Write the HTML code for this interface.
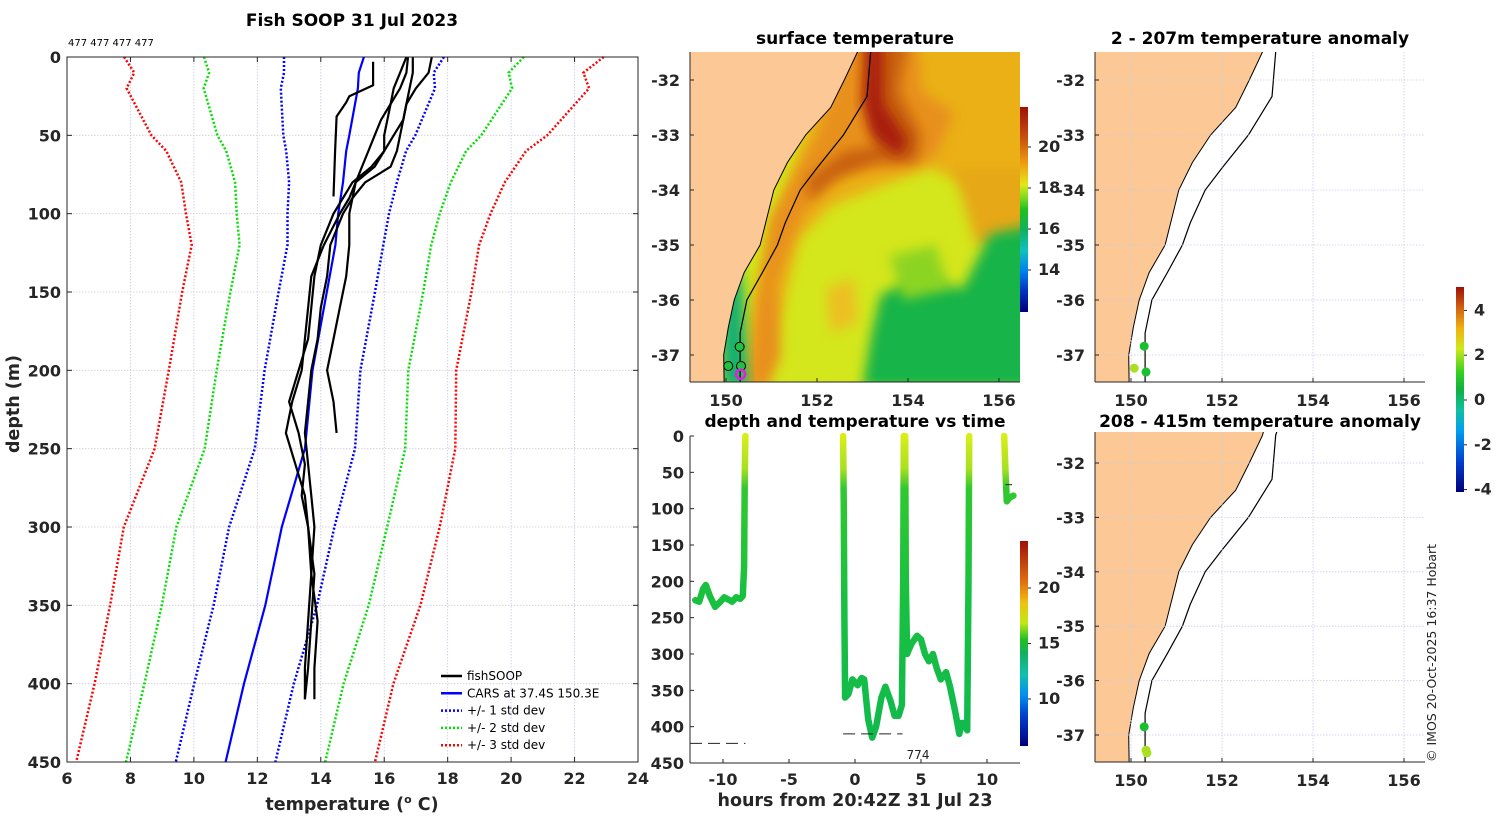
<!DOCTYPE html>
<html><head><meta charset="utf-8">
<style>
html,body{margin:0;padding:0;background:#fff;}
svg{display:block;font-family:"DejaVu Sans","Liberation Sans",sans-serif;}
.tk{font-size:16px;font-weight:bold;fill:#262626;}
.tt{font-size:17px;font-weight:bold;fill:#000;}
.at{font-size:17.5px;font-weight:bold;fill:#262626;}
</style></head>
<body>
<svg id="fig" width="1500" height="820" viewBox="0 0 1500 820" xmlns="http://www.w3.org/2000/svg">
<defs>
<linearGradient id="sstcb" x1="0" y1="1" x2="0" y2="0">
<stop offset="0" stop-color="#00007a"/><stop offset="0.1" stop-color="#0030c0"/><stop offset="0.2" stop-color="#0080f0"/><stop offset="0.3" stop-color="#10c0c0"/><stop offset="0.4" stop-color="#10b060"/><stop offset="0.5" stop-color="#20c020"/><stop offset="0.55" stop-color="#70d820"/><stop offset="0.62" stop-color="#e0e818"/><stop offset="0.72" stop-color="#f0a010"/><stop offset="0.85" stop-color="#c85010"/><stop offset="1" stop-color="#a01008"/>
</linearGradient>
<linearGradient id="tcb" x1="0" y1="1" x2="0" y2="0">
<stop offset="0" stop-color="#00007a"/><stop offset="0.15" stop-color="#0040d0"/><stop offset="0.25" stop-color="#0090f0"/><stop offset="0.35" stop-color="#10c0b0"/><stop offset="0.45" stop-color="#10b060"/><stop offset="0.52" stop-color="#20c020"/><stop offset="0.6" stop-color="#c0e818"/><stop offset="0.7" stop-color="#f0c010"/><stop offset="0.8" stop-color="#e07010"/><stop offset="1" stop-color="#a01008"/>
</linearGradient>
<linearGradient id="acb" x1="0" y1="1" x2="0" y2="0">
<stop offset="0" stop-color="#00007a"/><stop offset="0.15" stop-color="#0040d0"/><stop offset="0.3" stop-color="#00a0f0"/><stop offset="0.4" stop-color="#10c0a0"/><stop offset="0.5" stop-color="#10b040"/><stop offset="0.58" stop-color="#30d020"/><stop offset="0.7" stop-color="#d0e818"/><stop offset="0.8" stop-color="#f0b010"/><stop offset="0.9" stop-color="#d06010"/><stop offset="1" stop-color="#a01008"/>
</linearGradient>
<linearGradient id="tline" gradientUnits="userSpaceOnUse" x1="0" y1="436" x2="0" y2="763">
<stop offset="0" stop-color="#d8ee18"/><stop offset="0.1" stop-color="#a8e020"/><stop offset="0.16" stop-color="#30c830"/><stop offset="0.5" stop-color="#18c040"/><stop offset="1" stop-color="#10b850"/>
</linearGradient>
<clipPath id="clipSST"><rect x="690" y="52" width="330" height="330"/></clipPath>
<clipPath id="clipA1"><rect x="1095" y="52" width="330" height="330"/></clipPath>
<clipPath id="clipA2"><rect x="1095" y="432" width="330" height="330"/></clipPath>
<filter id="blur6" x="-20%" y="-20%" width="140%" height="140%"><feGaussianBlur stdDeviation="6"/></filter>
</defs>

<text class="tt" x="352" y="26" text-anchor="middle">Fish SOOP 31 Jul 2023</text>
<text x="68" y="46" font-size="10" fill="#000">477 477 477 477</text>
<g id="mainGrid"></g>
<g id="mainMarks"></g>
<rect x="67" y="57" width="571" height="705" fill="none" stroke="#262626" stroke-width="1"/>
<g id="mainTicks"></g>
<text class="at" x="0" y="0" font-size="18" transform="translate(19,404) rotate(-90)" text-anchor="middle">depth (m)</text>
<text class="at" x="352" y="810" text-anchor="middle">temperature (<tspan font-size="11" dy="-7">o</tspan><tspan dy="7"> C)</tspan></text>
<g id="legend"></g>

<text class="tt" x="855" y="44" text-anchor="middle">surface temperature</text>
<g id="sst" clip-path="url(#clipSST)"></g>
<g id="sstAxes"></g>
<rect x="1020" y="107" width="8" height="205" fill="url(#sstcb)"/>

<text class="tt" x="1260" y="44" text-anchor="middle">2 - 207m temperature anomaly</text>
<g id="a1" clip-path="url(#clipA1)"></g>
<g id="a1Axes"></g>
<text class="tt" x="1260" y="427" text-anchor="middle">208 - 415m temperature anomaly</text>
<g id="a2" clip-path="url(#clipA2)"></g>
<g id="a2Axes"></g>
<rect x="1456" y="287" width="8" height="205" fill="url(#acb)"/>
<g id="acbTicks"></g>

<text class="tt" x="855" y="427" text-anchor="middle">depth and temperature vs time</text>
<g id="tMarks"></g>
<g id="tAxes"></g>
<text class="at" x="855" y="806" text-anchor="middle">hours from 20:42Z 31 Jul 23</text>
<rect x="1020" y="541" width="8" height="205" fill="url(#tcb)"/>
<text x="918" y="759" font-size="12" fill="#222" text-anchor="middle">774</text>

<text x="0" y="0" transform="translate(1436,762) rotate(-90)" font-size="12.5" fill="#222">© IMOS 20-Oct-2025 16:37 Hobart</text>
</svg>
<script>
const cDepth=[0,10,20,50,60,80,100,120,150,200,250,300,350,400,450];
const cMean=[15.36,15.2,15.17,14.9,14.8,14.7,14.55,14.46,14.19,13.74,13.5,12.77,12.25,11.58,11.0];
const cStd=[2.52,2.36,2.43,2.08,1.89,1.7,1.6,1.51,1.52,1.51,1.58,1.66,1.63,1.57,1.57];
const xTicks=[6,8,10,12,14,16,18,20,22,24];
const yTicks=[0,50,100,150,200,250,300,350,400,450];
const pDepth=[0,10,20,30,40,50,60,70,80,90,100,120,140,160,180,200,220,240,260,280,300,330,360,390,410];
const prof1=[16.75,16.7,16.5,16.2,15.9,15.7,15.5,15.3,15.1,14.9,14.6,14.1,13.7,13.6,13.5,13.4,13.1,12.9,13.2,13.5,13.6,13.7,13.6,13.5,13.5];
const prof2=[16.9,16.9,16.8,16.7,16.6,16.3,16.0,15.6,15.0,14.7,14.4,14.0,13.8,13.7,13.6,13.3,13.0,13.3,13.5,13.4,13.6,13.8,13.7,13.6,13.5];
const prof3=[17.5,17.4,17.0,16.7,16.6,16.5,16.4,16.2,15.4,15.0,14.7,14.3,14.2,14.0,13.9,13.7,13.6,13.5,13.6,13.7,13.8,13.7,13.9,13.8,13.8];
const prof4=[16.7,16.5,16.3,16.2,16.1,16.0,16.0,15.7,15.1,15.0,14.9,14.9,14.8,14.6,14.4,14.2,14.4,14.5];
const sDepth=[3,18,25,29,38,60,89];
const profShort=[15.65,15.65,14.9,14.8,14.5,14.45,14.4];

const NS="http://www.w3.org/2000/svg";
function mk(tag,attrs,parent){const e=document.createElementNS(NS,tag);for(const k in attrs)e.setAttribute(k,attrs[k]);parent.appendChild(e);return e;}
const X=t=>67+(t-6)*571/18, Y=d=>57+d*705/450;

const grid=document.getElementById('mainGrid');
xTicks.forEach(t=>{const l=mk('line',{x1:X(t),x2:X(t),y1:57,y2:762,stroke:'#c4c8e4','stroke-width':0.8,'stroke-dasharray':'1.5,1.5'},grid);

});
yTicks.forEach(d=>{const l=mk('line',{x1:67,x2:638,y1:Y(d),y2:Y(d),stroke:'#d8c8d8','stroke-width':0.8,'stroke-dasharray':'1.5,1.5'},grid);

});

const tk=document.getElementById('mainTicks');
xTicks.forEach(t=>{
 mk('line',{x1:X(t),x2:X(t),y1:762,y2:757,stroke:'#262626'},tk);
 mk('line',{x1:X(t),x2:X(t),y1:57,y2:62,stroke:'#262626'},tk);
 const s=mk('text',{x:X(t),y:784,'text-anchor':'middle',class:'tk'},tk);s.textContent=t;
 
 });
yTicks.forEach(d=>{
 mk('line',{x1:67,x2:72,y1:Y(d),y2:Y(d),stroke:'#262626'},tk);
 mk('line',{x1:638,x2:633,y1:Y(d),y2:Y(d),stroke:'#262626'},tk);
 const s=mk('text',{x:61,y:Y(d)+6,'text-anchor':'end',class:'tk'},tk);s.textContent=d;
 
 });

const mm=document.getElementById('mainMarks');
function curve(ts,ds){return ts.map((t,i)=>X(t).toFixed(1)+','+Y(ds[i]).toFixed(1)).join(' ');}
const stdStyle=[[1,'#0000ff'],[2,'#00e000'],[3,'#ff0000']];
stdStyle.forEach(([k,c])=>{[-1,1].forEach(s=>{
 const p=mk('polyline',{points:curve(cMean.map((m,i)=>m+s*k*cStd[i]),cDepth),fill:'none',stroke:c,'stroke-width':2.5,'stroke-dasharray':'2,2'},mm);
 
 });});
const mean=mk('polyline',{points:curve(cMean,cDepth),fill:'none',stroke:'#0000ff','stroke-width':2.2},mm);


[[prof1,pDepth],[prof2,pDepth],[prof3,pDepth],[prof4,pDepth.slice(0,prof4.length)],[profShort,sDepth]].forEach(([p,d],i)=>{
 const l=mk('polyline',{points:curve(p,d),fill:'none',stroke:'#000','stroke-width':2.2,'stroke-linejoin':'round'},mm);
 
 });

const lg=document.getElementById('legend');
const legItems=[['fishSOOP','#000',null],['CARS at 37.4S 150.3E','#0000ff',null],['+/- 1 std dev','#0000ff','2,2'],['+/- 2 std dev','#00e000','2,2'],['+/- 3 std dev','#ff0000','2,2']];
legItems.forEach((it,i)=>{const y=676+i*17.3;
 const g=mk('g',{},lg);
 
 
 const a={x1:441,x2:462,y1:y,y2:y,stroke:it[1],'stroke-width':2.5};if(it[2])a['stroke-dasharray']=it[2];mk('line',a,g);
 const s=mk('text',{x:467,y:y+4,'font-size':12,fill:'#000'},g);s.textContent=it[0];});

const coast=[[152.95,-31.3],[152.89,-31.49],[152.6,-32.0],[152.3,-32.5],[151.75,-33.0],[151.35,-33.5],[151.05,-34.0],[150.9,-34.5],[150.75,-35.0],[150.4,-35.5],[150.18,-36.0],[150.05,-36.5],[149.95,-37.0],[149.96,-37.6]];
const iso=[[153.25,-31.3],[153.18,-31.49],[153.1,-32.3],[152.58,-33.0],[152.0,-33.6],[151.63,-34.0],[151.3,-34.6],[151.13,-35.0],[150.8,-35.5],[150.46,-36.0],[150.31,-36.6],[150.31,-37.6]];
const lonTicks=[150,152,154,156], latTicks=[-32,-33,-34,-35,-36,-37];
function proj(x0,yLat32,py){return (lon,lat)=>[x0+36+(lon-150)*45.5, yLat32+(-32-lat)*py];}
function poly(pr,pts){return pts.map(p=>pr(p[0],p[1]).map(v=>v.toFixed(1)).join(',')).join(' ');}
function landPts(pr){return poly(pr,[[140,-31.3]].concat(coast).concat([[140,-37.6]]));}

function drawAxes(gid,x0,top,yLat32,py,pr,gridOn){
 const g=document.getElementById(gid), bot=top+330;
 if(gridOn){
  lonTicks.forEach(l=>{const x=pr(l,-32)[0];mk('line',{x1:x,x2:x,y1:top,y2:bot,stroke:'#c8cce8','stroke-width':0.8,'stroke-dasharray':'1.5,1.5'},g);});
  latTicks.forEach(l=>{const y=pr(150,l)[1];mk('line',{x1:x0,x2:x0+330,y1:y,y2:y,stroke:'#c8cce8','stroke-width':0.8,'stroke-dasharray':'1.5,1.5'},g);});
 }
 mk('line',{x1:x0,x2:x0,y1:top,y2:bot,stroke:'#262626'},g);
 mk('line',{x1:x0,x2:x0+330,y1:bot,y2:bot,stroke:'#262626'},g);
 lonTicks.forEach(l=>{const x=pr(l,-32)[0];mk('line',{x1:x,x2:x,y1:bot,y2:bot-4,stroke:'#262626'},g);
  const s=mk('text',{x:x,y:bot+24,'text-anchor':'middle',class:'tk'},g);s.textContent=l;
  
  });
 latTicks.forEach(l=>{const y=pr(150,l)[1];mk('line',{x1:x0,x2:x0+4,y1:y,y2:y,stroke:'#262626'},g);
  const s=mk('text',{x:x0-10,y:y+6,'text-anchor':'end',class:'tk'},g);s.textContent=l;
  
  });
}

const pS=proj(690,80,55);
const sst=document.getElementById('sst');
mk('rect',{x:690,y:52,width:330,height:330,fill:'#d4e61c'},sst);
const blobs=[
 ['#eab018',[[152.5,-31.3],[157,-31.3],[157,-34.3],[155.5,-34.0],[154.5,-33.6],[153.5,-33.9],[152.3,-34.3],[151.6,-34.9],[151.4,-35.6],[151.2,-36.3],[150.8,-37.6],[150.3,-37.6],[150.6,-36],[151,-34.6]]],
 ['#e8901a',[[152.7,-31.3],[154.2,-31.3],[154.3,-32.2],[155.0,-32.6],[154.6,-33.4],[153.8,-33.6],[152.6,-33.7],[151.8,-34.3],[151.5,-34.8],[151.1,-35.7],[151.2,-37.0],[150.9,-37.6],[150.5,-37.6],[150.7,-36],[151,-34.5],[152,-33]]],
 ['#c8600e',[[153.0,-31.3],[154.0,-31.3],[153.8,-32.2],[154.3,-33.0],[154.2,-33.5],[153.3,-33.5],[152.4,-33.8],[151.8,-34.2],[151.8,-33.8],[152.6,-33.3],[153.3,-33.2],[153.1,-32.4]]],
 ['#a81c0a',[[153.1,-31.3],[153.45,-31.3],[153.45,-32.4],[154.0,-33.1],[153.8,-33.4],[153.2,-33.0],[153.0,-32.4]]],
 ['#e6a818',[[155.0,-33.6],[157,-33.6],[157,-34.9],[155.5,-35.0]]],
 ['#ecc020',[[152.2,-35.8],[152.8,-35.6],[152.9,-36.4],[152.3,-36.6]]],
 ['#18b44a',[[153.4,-35.9],[154.2,-35.6],[155.2,-35.8],[155.8,-34.8],[157,-34.6],[157,-37.6],[153.0,-37.6],[153.2,-36.6]]],
 ['#8cd424',[[153.6,-35.2],[154.6,-35.0],[154.9,-35.8],[153.9,-36.0]]],
 ['#12b070',[[149.9,-36.0],[150.35,-35.4],[150.5,-37.6],[149.9,-37.6]]]
];
blobs.forEach(([c,p])=>{mk('polygon',{points:poly(pS,p),fill:c,filter:'url(#blur6)'},sst);});
function landAndLines(g,pr){
 const land=mk('polygon',{points:landPts(pr),fill:'#fcc896',stroke:'#000','stroke-width':1},g);
 
 
 const iso1=mk('polyline',{points:poly(pr,iso),fill:'none',stroke:'#000','stroke-width':1.2},g);
 
 
}
landAndLines(sst,pS);
drawAxes('sstAxes',690,52,80,55,pS,false);

const stLon=[150.3,150.05,150.33,150.32];
const stLat=[-36.85,-37.2,-37.2,-37.35];
const a1Lon=[150.29,150.07,150.33];
const a1Lat=[-36.84,-37.24,-37.31];
const st1Col=['#18c030','#a8e020','#18c030'];
const st2Lon=[150.29,150.33,150.35];
const st2Lat=[-36.85,-37.28,-37.33];
const st2Col=['#18c030','#a8e020','#a8e020'];
[0,1,2].forEach(i=>{const [x,y]=pS(stLon[i],stLat[i]);
 const c=mk('circle',{cx:x,cy:y,r:4.5,fill:'#20c040',stroke:'#000','stroke-width':1},sst);
 
 });
{const [x,y]=pS(stLon[3],stLat[3]);const c=mk('circle',{cx:x,cy:y,r:4.5,fill:'none',stroke:'#e020e0','stroke-width':2.5},sst);
 
 }

const pA1=proj(1095,80,55);
const a1=document.getElementById('a1');
landAndLines(a1,pA1);
drawAxes('a1Axes',1095,52,80,55,pA1,true);
[0,1,2].forEach(i=>{const [x,y]=pA1(a1Lon[i],a1Lat[i]);
 const c=mk('circle',{cx:x,cy:y,r:4.5,fill:st1Col[i]},a1);
 
 });

const pA2=proj(1095,463,54.4);
const a2=document.getElementById('a2');
landAndLines(a2,pA2);
drawAxes('a2Axes',1095,432,463,54.4,pA2,true);
[0,1,2].forEach(i=>{const [x,y]=pA2(st2Lon[i],st2Lat[i]);
 const c=mk('circle',{cx:x,cy:y,r:4.5,fill:st2Col[i]},a2);
 
 });

function cbTicks(gid,x,vals,y0,pxPer,v0){const g=document.getElementById(gid);
 vals.forEach(v=>{const y=y0-(v-v0)*pxPer;mk('line',{x1:x,x2:x+3,y1:y,y2:y,stroke:'#262626'},g);
  const s=mk('text',{x:x+10,y:y+5,class:'tk','font-size':14},g);s.textContent=v;
  
  });}
const acbVals=[4,2,0,-2,-4];
cbTicks('acbTicks',1464,acbVals,400,22.4,0);
const sstCbVals=[20,18,16,14];
cbTicks('sstAxes',1028,sstCbVals,147,20.5,20);
const tCbVals=[20,15,10];
cbTicks('tAxes',1028,tCbVals,588,11.1,20);

const segAh=[-12.1,-11.8,-11.5,-11.3,-11.0,-10.6,-10.2,-9.9,-9.6,-9.3,-9.0,-8.7,-8.5,-8.4,-8.35,-8.3];
const segAd=[226,228,210,205,220,235,228,222,225,228,222,224,220,180,50,0];
const segBh=[-0.9,-0.85,-0.8,-0.75,-0.5,-0.2,0.2,0.5,0.7,1.0,1.3,1.6,2.0,2.3,2.7,3.0,3.3,3.55,3.65,3.7,3.8,3.85,3.95,4.05,4.3,4.7,5.0,5.3,5.6,5.9,6.2,6.5,6.9,7.2,7.6,7.9,8.1,8.3,8.5,8.6,8.65];
const segBd=[0,100,250,360,355,335,343,333,335,390,415,400,360,345,365,385,385,370,200,0,0,200,300,295,285,275,280,300,310,300,320,335,325,345,380,410,395,395,405,200,0];
const segCh=[11.3,11.4,11.5,11.7,12.0];
const segCd=[0,50,90,85,82];
const bottomH=[[-12.5,-8.3],[-0.9,3.6]];
const bottomD=[423,410];
const hTicks=[-10,-5,0,5,10];
const TX=h=>690+(h+12.5)*13.2, TY=d=>436+d*327/450;
const tm=document.getElementById('tMarks');
[[segAh,segAd],[segBh,segBd],[segCh,segCd]].forEach(([h,d],i)=>{
 const l=mk('polyline',{points:h.map((v,j)=>TX(v).toFixed(1)+','+TY(d[j]).toFixed(1)).join(' '),fill:'none',stroke:'url(#tline)','stroke-width':6.5,'stroke-linejoin':'round','stroke-linecap':'round'},tm);
 
 });
bottomH.forEach((h,i)=>{const l=mk('line',{x1:TX(h[0]),x2:TX(h[1]),y1:TY(bottomD[i]),y2:TY(bottomD[i]),stroke:'#222','stroke-width':1,'stroke-dasharray':'12,6'},tm);
 
 });
mk('line',{x1:TX(11.4),x2:TX(11.9),y1:TY(67),y2:TY(67),stroke:'#222'},tm);
const ta=document.getElementById('tAxes');
mk('line',{x1:690,x2:690,y1:436,y2:763,stroke:'#262626'},ta);
mk('line',{x1:690,x2:1020,y1:763,y2:763,stroke:'#262626'},ta);
hTicks.forEach(h=>{mk('line',{x1:TX(h),x2:TX(h),y1:763,y2:759,stroke:'#262626'},ta);
 const s=mk('text',{x:TX(h),y:785,'text-anchor':'middle',class:'tk'},ta);s.textContent=h;
 
 });
yTicks.forEach(d=>{mk('line',{x1:690,x2:694,y1:TY(d),y2:TY(d),stroke:'#262626'},ta);
 const s=mk('text',{x:684,y:TY(d)+6,'text-anchor':'end',class:'tk'},ta);s.textContent=d;
 
 });
</script>
</body></html>
